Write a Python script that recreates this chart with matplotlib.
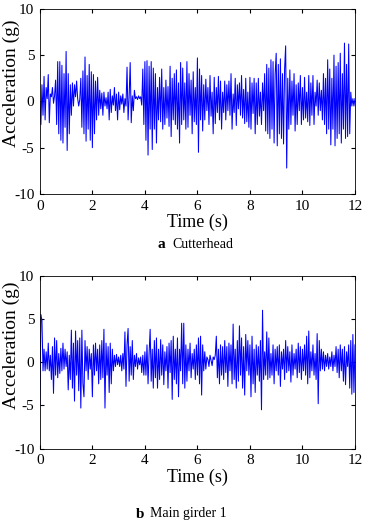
import numpy as np
import matplotlib.pyplot as plt

plt.rcParams['font.family'] = ['Liberation Serif', 'DejaVu Serif']
plt.rcParams['axes.unicode_minus'] = False

# cutterhead acceleration (25 samples per second)
cutterhead = [
    0, -2.5, 1.8, -1.5, 2.7, -2.0, 1.5, 0.3, 2.9, -2.3, 0.8, 0.5, 1.5, -0.2, 0.6, 2.3, -2.5, 4.3, -3.5, 4.3, -4.2, 3.9, -4.5, 3.0, -2.8,
    5.4, -5.3, 3.0, -3.5, 1.8, -1.5, 2.0, -0.5, 1.8, 0.5, 2.2, 0.3, -0.5, 0.2, 2.5, -2.8, 3.3, -3.5, 4.8, -4.3, 2.8, -3.0, 4.0, -4.2, 3.2,
    -5.0, 2.9, -3.5, 2.2, -2.0, 2.6, -1.5, 1.2, -0.8, 0.9, -1.5, 1.0, -0.5, 0.4, -0.8, 1.0, -2.0, 1.3, -1.2, 0.6, -0.4, 1.5, -1.0, 0.8, -2.0,
    1.0, -0.9, 0.6, -0.3, 0.8, -1.2, 0.3, -0.5, 3.7, -2.0, 0.5, 4.2, -2.3, 0.6, -1.0, 1.2, 0.3, 0.5, 0.2, 0.6, 0.3, 0.5, -0.4, 3.5, -2.5,
    4.3, -4.2, 4.4, -5.8, 3.8, -3.0, 4.3, -5.2, 3.6, -3.0, 3.0, -4.5, 1.5, -2.0, 2.6, -2.2, 3.5, -3.0, 1.5, -2.5, 2.3, -1.8, 1.6, -2.7, 3.8,
    -3.8, 2.5, -2.0, 3.0, -2.5, 3.4, -3.0, 2.0, -4.5, 4.2, -2.5, 3.6, -2.0, 2.0, -3.0, 4.3, -2.8, 3.0, -1.5, 2.3, -3.5, 3.2, -2.2, 1.5, -2.5,
    4.7, -5.5, 3.5, -2.0, 2.8, -3.2, 1.8, -2.0, 2.4, -1.0, 1.5, -2.5, 2.8, -1.6, 1.0, -3.5, 2.6, -2.4, 1.5, -1.2, 2.7, -2.0, 2.2, -3.0, 1.0,
    -1.2, 2.2, -2.0, 1.8, -1.0, 2.2, -1.5, 3.0, -3.0, 0.8, -1.2, 2.5, -2.6, 1.8, -0.8, 2.0, -1.5, 2.8, -1.8, 1.3, -2.4, 2.5, -2.2, 1.0, -2.8,
    2.6, -3.0, 2.0, -1.3, 2.5, -3.5, 2.0, -2.5, 2.5, -1.6, 1.0, -2.5, 2.0, -1.0, 3.0, -3.2, 4.0, -3.5, 3.6, -4.0, 4.5, -3.0, 4.3, -4.5, 3.0,
    5.2, -4.8, 4.0, -3.5, 4.6, -4.0, 3.0, -4.6, 3.5, 6.0, -7.2, 2.5, -3.0, 3.4, -2.5, 2.2, -1.5, 3.0, -3.2, 1.8, -2.5, 2.0, -1.0, 2.8, -2.5,
    1.5, -2.0, 2.6, -1.8, 1.0, -2.2, 2.8, -2.6, 2.0, -1.5, 2.8, -2.5, 1.0, -0.5, 2.3, -1.5, 2.0, -1.0, 1.2, -2.0, 3.0, -2.5, 2.5, -3.5, 4.5,
    -3.0, 3.5, -4.7, 2.5, -3.0, 5.0, -4.8, 3.8, -4.0, 4.2, -3.5, 5.2, -4.5, 3.0, -3.0, 6.3, -4.0, 4.0, -3.8, 6.2, -3.5, 1.0, -0.5, 0.3, -0.5,
    0.3,
]

# main girder 1 acceleration
girder = [
    -5.0, 5.5, 4.8, -1.0, 1.5, -1.0, 1.2, -0.8, 2.2, -1.0, 0.8, -2.0, 1.8, -3.6, 2.8, -1.5, 2.5, -1.8, 1.0, -1.3, 1.6, -1.0, 2.2, -0.8, 1.5,
    -0.5, 1.2, -3.2, 0.8, -2.0, 3.7, -3.0, 2.2, -4.5, 3.6, -1.5, 2.5, -3.3, 2.8, -5.3, 3.7, -2.5, -4.0, 2.5, -1.0, 1.8, -2.0, 1.5, -0.8, 1.0,
    -4.0, 2.0, -1.5, 2.2, -1.0, 1.5, -2.5, 2.0, -2.0, 2.5, -1.8, 3.8, -5.3, 2.2, -1.5, 1.8, -3.5, 2.2, -2.5, 1.5, -1.0, 0.8, -0.5, 0.9, -0.3,
    0.6, -0.5, 0.8, -1.0, 1.0, -0.8, 3.5, -2.8, 2.0, 3.9, -2.2, 1.8, -1.5, 2.5, -2.0, 0.8, -0.5, 1.0, -0.8, 0.5, -0.3, 0.6, -1.2, 0.8, -1.5,
    1.2, -1.5, 2.0, -2.5, 1.0, 3.8, -2.2, 1.5, -3.0, 2.5, -1.8, 2.8, -3.0, 1.5, -2.0, 2.6, -1.5, 2.0, -2.6, 1.2, -1.0, 1.8, -3.0, 2.2, -1.2,
    2.5, -4.3, 3.0, -2.0, 1.5, -2.5, 2.8, -4.0, 1.5, -1.0, 4.5, -2.5, 4.5, -3.0, 2.0, -2.2, 1.5, -1.0, 2.2, -1.8, 1.0, -0.8, 1.5, -2.0, 2.0,
    -1.5, 2.8, -2.5, 3.0, -3.8, 2.0, -1.0, 1.2, -0.8, 0.6, 0.3, -0.5, 0.8, 0.2, -0.4, 0.6, 0.3, 0.8, 3.0, -1.8, 1.5, -2.5, 2.0, -1.5, 1.8,
    -2.0, 2.5, -1.2, 1.8, -2.8, 2.2, -1.0, 2.0, -2.5, 4.4, -2.0, 1.5, -3.0, 2.5, -2.2, 4.2, -1.5, 2.8, -3.0, 1.8, -3.8, 3.2, -1.0, 2.5, -1.5,
    2.0, -4.0, 3.0, -2.5, 1.5, -3.5, 2.0, -1.5, 1.8, -2.2, 2.5, -5.5, 6.0, -2.0, 1.2, -1.5, 3.5, -2.0, 2.8, -1.8, 1.0, -1.5, 2.0, -2.5, 1.5,
    -1.0, 1.8, -1.5, 2.0, -2.8, 1.2, -0.8, 1.5, -2.0, 2.5, -1.2, 1.8, -1.0, 1.2, -2.3, 2.0, -1.5, 1.0, -0.8, 1.5, -1.8, 2.2, -1.2, 1.8, -2.0,
    1.5, -1.0, 2.0, -1.5, 3.0, -2.5, 3.6, -1.8, 1.2, -1.0, 2.0, -1.5, 1.0, -2.0, 3.3, -4.8, 2.5, -1.0, 1.5, -0.8, 1.2, -1.0, 0.8, -0.5, 1.0,
    -0.8, 0.6, -0.5, 1.2, -1.0, 0.8, -0.5, 1.8, -1.2, 1.5, -1.8, 2.0, -1.0, 1.5, -2.2, 1.8, -2.6, 1.2, -0.5, 2.0, -3.0, 2.5, -3.7, 3.2, -3.5,
    2.0,
]

x_ticks = [0, 2, 4, 6, 8, 10, 12]
y_ticks = [-10, -5, 0, 5, 10]


def draw(ax, values):
    t = np.linspace(0, 12, len(values))
    ax.plot(t, values, color='#0000ff', linewidth=0.75)
    ax.set_xlim(0, 12)
    ax.set_ylim(-10, 10)
    ax.set_xticks(x_ticks)
    ax.set_yticks(y_ticks)
    ax.tick_params(direction='in', top=True, right=True, labelsize=11, length=3, pad=4)
    ax.set_xlabel('Time (s)', fontsize=13, labelpad=1)
    ax.set_ylabel('Acceleration (g)', fontsize=14)
    ax.yaxis.set_label_coords(-0.062, 0.6)
    for s in ax.spines.values():
        s.set_linewidth(0.6)


fig = plt.figure(figsize=(3.69, 5.2), dpi=100)
ax1 = fig.add_axes([0.108, 0.627, 0.854, 0.356])
ax2 = fig.add_axes([0.108, 0.137, 0.854, 0.333])
draw(ax1, cutterhead)
draw(ax2, girder)

fig.text(157 / 369, 1 - 245 / 520, 'a', fontsize=11, fontweight='bold', va='center')
fig.text(172 / 369, 1 - 245 / 520, 'Cutterhead', fontsize=10, va='center')
fig.text(136 / 369, 1 - 514 / 520, 'b', fontsize=11, fontweight='bold', va='center')
fig.text(150 / 369, 1 - 514 / 520, 'Main girder 1', fontsize=10, va='center')

fig.savefig('out.png', dpi=100)
